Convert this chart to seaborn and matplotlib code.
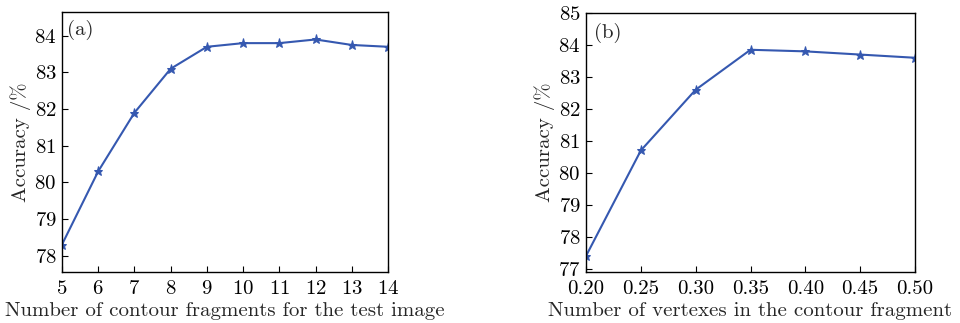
import matplotlib
matplotlib.use("Agg")
import matplotlib.pyplot as plt
import seaborn as sns
import pandas as pd

frag_counts = [5, 6, 7, 8, 9, 10, 11, 12, 13, 14]
acc_a = [78.3, 80.3, 81.9, 83.1, 83.7, 83.8, 83.8, 83.9, 83.75, 83.7]
vertex_ratio = [0.20, 0.25, 0.30, 0.35, 0.40, 0.45, 0.50]
acc_b = [77.4, 80.7, 82.6, 83.85, 83.8, 83.7, 83.6]
xticks_b = ["0.20", "0.25", "0.30", "0.35", "0.40", "0.45", "0.50"]

sns.set_theme(style="ticks")
plt.rcParams["font.family"] = ["serif"]
plt.rcParams["font.serif"] = ["cmr10", "DejaVu Serif"]
plt.rcParams["axes.formatter.use_mathtext"] = True
plt.rcParams["mathtext.fontset"] = "cm"

color = "#3558b0"
fig = plt.figure(figsize=(9.6, 3.23), dpi=100)
ax1 = fig.add_axes([62/960, 1-272/323, 326/960, 260/323])
ax2 = fig.add_axes([586/960, 1-272/323, 329/960, 259/323])

da = pd.DataFrame({"x": frag_counts, "y": acc_a})
db = pd.DataFrame({"x": vertex_ratio, "y": acc_b})
for ax, d in ((ax1, da), (ax2, db)):
    sns.lineplot(data=d, x="x", y="y", ax=ax, color=color, marker="*", markersize=6.5,
                 markeredgecolor=color, linewidth=1.5)

fs = 15
ax1.set_xlim(5, 14)
ax1.set_ylim(77.55, 84.65)
ax1.set_xticks(frag_counts)
ax1.set_yticks([78, 79, 80, 81, 82, 83, 84])
ax1.set_xlabel("Number of contour fragments for the test image", fontsize=fs, labelpad=3)
ax1.set_ylabel("Accuracy /%", fontsize=fs, labelpad=2)
ax1.text(0.015, 0.97, "(a)", transform=ax1.transAxes, fontsize=fs, va="top", ha="left")

ax2.set_xlim(0.20, 0.50)
ax2.set_ylim(76.9, 85.0)
ax2.set_xticks(vertex_ratio)
ax2.set_xticklabels(xticks_b)
ax2.set_yticks(list(range(77, 86)))
ax2.set_xlabel("Number of vertexes in the contour fragment", fontsize=fs, labelpad=3)
ax2.set_ylabel("Accuracy /%", fontsize=fs, labelpad=2)
ax2.text(0.025, 0.96, "(b)", transform=ax2.transAxes, fontsize=fs, va="top", ha="left")

for ax in (ax1, ax2):
    ax.tick_params(direction="in", length=4, width=0.8, labelsize=fs, colors="black")
    ax.tick_params(axis="x", pad=6)
    ax.tick_params(axis="y", pad=4)
    for s in ax.spines.values():
        s.set_linewidth(1.0)
        s.set_color("black")

fig.savefig("out.png", dpi=100)
